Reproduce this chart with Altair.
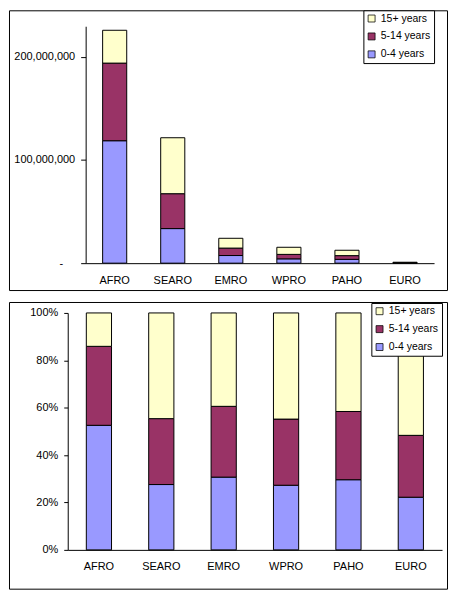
import altair as alt
import pandas as pd

# ---- data ----
regions = ["AFRO", "SEARO", "EMRO", "WPRO", "PAHO", "EURO"]
age_groups = ["0-4 years", "5-14 years", "15+ years"]
legend_order = ["15+ years", "5-14 years", "0-4 years"]
legend_colors = ["#FFFFCC", "#993366", "#9999FF"]

pop_0_4 = [118_600_000, 33_500_000, 7_400_000, 4_200_000, 3_700_000, 200_000]
pop_5_14 = [75_200_000, 33_800_000, 7_200_000, 4_300_000, 3_600_000, 235_000]
pop_15p = [31_800_000, 54_200_000, 9_500_000, 6_900_000, 5_200_000, 465_000]

abs_ticks = [0, 100_000_000, 200_000_000]
pct_ticks = [0, 0.2, 0.4, 0.6, 0.8, 1.0]

rows = []
for i, r in enumerate(regions):
    for k, (g, vals) in enumerate(zip(age_groups, [pop_0_4, pop_5_14, pop_15p])):
        rows.append({"region": r, "age": g, "rank": k, "value": vals[i]})
df = pd.DataFrame(rows)

FONT = "Liberation Sans"
NBSP = "\u00a0"
ZWSP = "\u200b"
zero_label = "-" + NBSP * 4 + ZWSP


def legend(x, y):
    return alt.Legend(
        title=None, orient="none", legendX=x, legendY=y,
        strokeColor="black", fillColor="white", padding=3,
        symbolType="square", symbolSize=49, symbolStrokeColor="black",
        symbolStrokeWidth=0.75, symbolOpacity=1,
        labelFont=FONT, labelFontSize=10.5, labelColor="black",
        labelOffset=4, rowPadding=7, cornerRadius=0,
    )


color = alt.Color("age:N", scale=alt.Scale(domain=legend_order, range=legend_colors))
order = alt.Order("rank:Q", sort="ascending")

# ---- top panel: absolute numbers ----
top = alt.Chart(df).mark_bar(stroke="black", strokeWidth=1).encode(
    x=alt.X("region:N", sort=regions,
            scale=alt.Scale(range=[77, 427], paddingInner=0.585, paddingOuter=0.2925),
            axis=alt.Axis(title=None, labelAngle=0, ticks=False, tickSize=0,
                          labelPadding=11, offset=-27)),
    y=alt.Y("value:Q", stack="zero",
            scale=alt.Scale(domain=[0, 229_500_000], range=[254, 16], nice=False),
            axis=alt.Axis(title=None, values=abs_ticks, tickSize=5, labelPadding=6,
                          offset=-77,
                          labelExpr="datum.value == 0 ? '" + zero_label + "' : format(datum.value, ',')")),
    color=color.legend(legend(356, 0)),
    order=order,
).properties(width=440, height=281)

# ---- bottom panel: shares ----
bottom = alt.Chart(df).mark_bar(stroke="black", strokeWidth=1).encode(
    x=alt.X("region:N", sort=regions,
            scale=alt.Scale(range=[59, 435], paddingInner=0.596, paddingOuter=0.298),
            axis=alt.Axis(title=None, labelAngle=0, ticks=False, tickSize=0,
                          labelPadding=11, offset=-39)),
    y=alt.Y("value:Q", stack="normalize",
            scale=alt.Scale(domain=[0, 1], range=[249, 11], nice=False),
            axis=alt.Axis(title=None, values=pct_ticks, format=".0%", tickSize=4,
                          labelPadding=6, offset=-59)),
    color=color.legend(legend(364, 1)),
    order=order,
).properties(width=440, height=288)

chart = alt.vconcat(top, bottom, spacing=10).resolve_scale(
    x="independent", y="independent"
).resolve_legend(color="independent").properties(
    padding=0, background="white"
).configure_view(
    stroke="black", strokeWidth=1
).configure_axis(
    labelFont=FONT, labelFontSize=11, labelColor="black", labelFontWeight="normal",
    domainColor="black", tickColor="black", domainWidth=1, tickWidth=1, grid=False,
)

chart.save("out.html", embed_options={"renderer": "svg", "actions": False})
